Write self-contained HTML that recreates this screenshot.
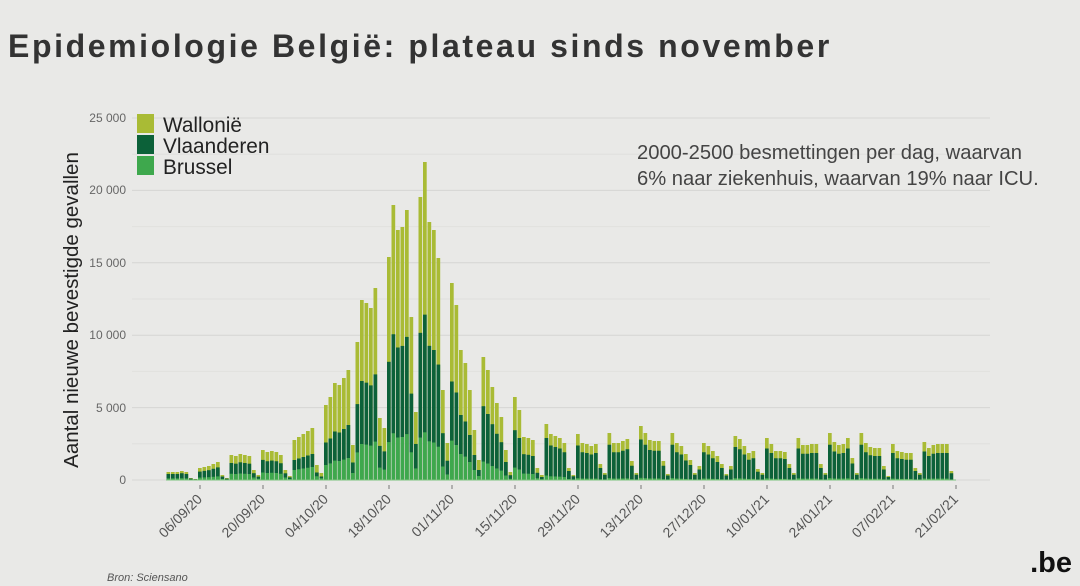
<!DOCTYPE html>
<html><head><meta charset="utf-8"><style>
html,body{margin:0;padding:0;background:#e9e9e7;width:1080px;height:586px;overflow:hidden;font-family:"Liberation Sans",sans-serif}
</style></head><body>
<svg id="s" width="1080" height="586" xmlns="http://www.w3.org/2000/svg" style="position:absolute;left:0;top:0">
<rect width="1080" height="586" fill="#e9e9e7"/>
<text x="8" y="57" font-size="32" font-weight="bold" fill="#333" letter-spacing="2.6" font-family="Liberation Sans">Epidemiologie België: plateau sinds november</text>
<g id="grid"></g>
<g id="bars"></g>
<g font-size="12" fill="#666" text-anchor="end">
<text x="126" y="122">25 000</text><text x="126" y="194">20 000</text><text x="126" y="267">15 000</text>
<text x="126" y="339">10 000</text><text x="126" y="412">5 000</text><text x="126" y="484">0</text>
</g>
<text transform="translate(78,310) rotate(-90)" text-anchor="middle" font-size="20.5" fill="#222">Aantal nieuwe bevestigde gevallen</text>
<rect x="137" y="114" width="17" height="19" fill="#a9bb35"/>
<rect x="137" y="135" width="17" height="19" fill="#0c6139"/>
<rect x="137" y="156" width="17" height="19" fill="#3ea84d"/>
<g font-size="20.8" fill="#222"><text x="163" y="132">Wallonië</text><text x="163" y="153">Vlaanderen</text><text x="163" y="174">Brussel</text></g>
<g font-size="20.2" fill="#444"><text x="637" y="159">2000-2500 besmettingen per dag, waarvan</text><text x="637" y="185">6% naar ziekenhuis, waarvan 19% naar ICU.</text></g>
<g id="xl" font-size="14" fill="#555" text-anchor="end"></g>
<text x="107" y="581" font-size="11" font-style="italic" fill="#555">Bron: Sciensano</text>
<text x="1072" y="572" font-size="29" font-weight="bold" fill="#111" text-anchor="end">.be</text>
</svg>
<script>
var NS="http://www.w3.org/2000/svg";
function el(p,t,a){var e=document.createElementNS(NS,t);for(var k in a)e.setAttribute(k,a[k]);document.getElementById(p).appendChild(e);return e;}
for(var i=0;i<=10;i++){var y=480-i*36.2;el("grid","line",{x1:132,x2:990,y1:y,y2:y,stroke:i%2?"#e0e0de":"#d6d6d4","stroke-width":1});}
var B=[[8,8,8,9,8,2,1],[12,13,14,16,18,5,2],[25,24,26,25,24,10,5],[30,28,29,28,25,10,4],[40,43,46,49,52,15,7],
[75,83,97,95,102,110,35],[138,180,177,172,192,62,52],[223,275,250,253,270,163,68],[283,318,258,250,222,90,37],
[197,175,130,117,90,50,20],[123,110,93,77,63,30,8],[83,70,43,42,40,12,5],[56,46,44,42,37,12,5],[46,37,36,34,36,16,7],
[47,37,37,39,41,19,7],[54,47,40,39,39,19,6],[47,37,34,26,20,7,14],[37,34,29,24,16,6,14],[44,41,34,27,29,11,7],
[42,36,29,29,28,16,7],[42,35,35,36,36,16,7],[47,38,35,36,42,22,7],[47,37,33,32,32,14,4],[36,29,28,27,27,12,7],[38,32,35,36,36,36,9]];
var F=[[.75,.2],[.7,.2],[.68,.25],[.67,.25],[.5,.25],[.5,.2],[.55,.2],[.53,.17],[.52,.15],[.5,.2],[.6,.15],[.6,.15],[.75,.08]];
for(var b=0;b<B.length;b++)for(var j=0;j<7;j++){var d=b*7+j-7;var x=200+4.5*d-2;var h=B[b][j];var f=F[Math.min(b,12)];if(b>12)f=[.75,.04];
var hd=h*f[0],hl=h*f[1];
el("bars","rect",{x:x,y:480-h,width:3.7,height:h,fill:"#a9bb35"});
el("bars","rect",{x:x,y:480-hd,width:3.7,height:hd,fill:"#0c6139"});
el("bars","rect",{x:x,y:480-hl,width:3.7,height:hl,fill:"#3ea84d"});}
el("bars","line",{x1:166,x2:956,y1:480,y2:480,stroke:"#7cc47c","stroke-width":1});
var L=["06/09/20","20/09/20","04/10/20","18/10/20","01/11/20","15/11/20","29/11/20","13/12/20","27/12/20","10/01/21","24/01/21","07/02/21","21/02/21"];
for(var i=0;i<L.length;i++){var x=200+63*i;el("xl","line",{x1:x,x2:x,y1:485,y2:489,stroke:"#777"});
var t=el("xl","text",{transform:"translate("+(x+3)+",500) rotate(-45)"});t.textContent=L[i];}
</script>
</body></html>
